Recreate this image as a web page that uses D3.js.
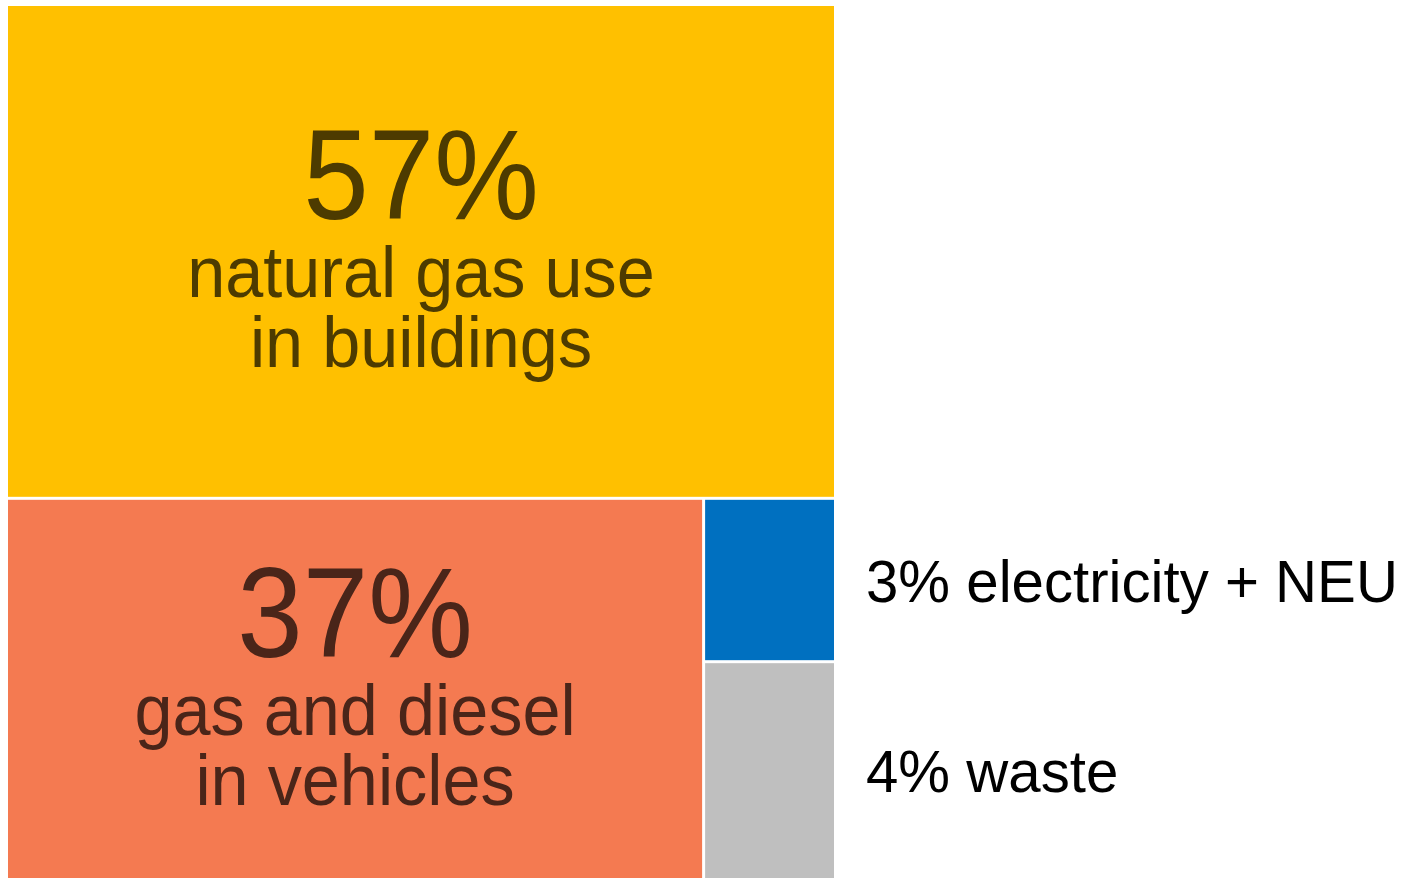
<!DOCTYPE html>
<html>
<head>
<meta charset="utf-8">
<script src="https://cdn.jsdelivr.net/npm/d3@7"></script>
<style>
  body { margin: 0; background: #fff; }
  text { font-family: "Liberation Sans", Arial, sans-serif; }
</style>
</head>
<body>
<svg id="chart" width="1405" height="878"></svg>
<script>

// data
let names = ["buildings", "vehicles", "electricity", "waste"];
let shares = [57, 37, 3, 4];
let lines = [
    ["natural gas use", "in buildings"],
    ["gas and diesel", "in vehicles"],
    ["electricity + NEU"],
    ["waste"]
];
let fills = ["#FFC000", "#F47A51", "#0070C0", "#BFBFBF"];
let inks = ["#4D3B00", "#4A2519", "#000", "#000"];

let margin = {top: 6, right: 571, bottom: 0, left: 8};
let width = 1405 - margin.left - margin.right;
let height = 878 - margin.top - margin.bottom;

let svg = d3.select("#chart");
let g = svg.append("g")
    .attr("transform", "translate(" + margin.left + "," + margin.top + ")");

let rows = names.map((n, i) => ({name: n, value: shares[i], idx: i}));

let root = d3.hierarchy({children: rows})
    .sum(d => d.value || 0);

d3.treemap()
    .size([width, height])
    .paddingInner(3)
    .tile(d3.treemapBinary)(root);

let leaves = root.leaves();

g.selectAll("rect.cell")
    .data(leaves)
    .enter()
    .append("rect")
    .attr("class", "cell")
    .attr("x", d => d.x0)
    .attr("y", d => d.y0)
    .attr("width", d => d.x1 - d.x0)
    .attr("height", d => d.y1 - d.y0)
    .attr("fill", d => fills[d.data.idx]);

// big cells get the label inside, small ones to the right
leaves.forEach(function (d) {
    let i = d.data.idx;
    let cx = (d.x0 + d.x1) / 2;
    let cy = (d.y0 + d.y1) / 2;

    if (d.x1 - d.x0 > 300) {
        let txt = g.append("g")
            .attr("transform", "translate(" + cx + "," + cy + ")")
            .attr("fill", inks[i])
            .attr("text-anchor", "middle");

        txt.append("text")
            .attr("transform", "translate(0,-32) scale(0.92,1)")
            .style("font-size", "128px")
            .text(shares[i] + "%");

        lines[i].forEach(function (l, k) {
            txt.append("text")
                .attr("transform", "translate(0," + (46 + k * 70) + ") scale(0.95,1)")
                .style("font-size", "72px")
                .text(l);
        });
    }
    else {
        g.append("text")
            .attr("transform", "translate(" + (d.x1 + 32) + "," + cy + ") scale(0.97,1)")
            .attr("dy", "0.36em")
            .attr("fill", inks[i])
            .style("font-size", "60px")
            .text(shares[i] + "% " + lines[i][0]);
    }
});

</script>
</body>
</html>
